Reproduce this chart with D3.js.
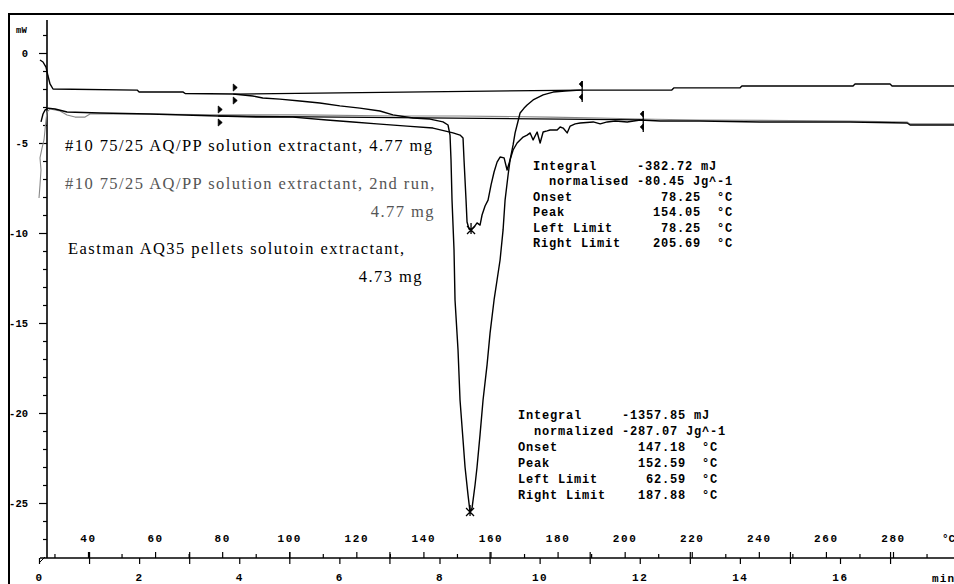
<!DOCTYPE html>
<meta charset="utf-8">
<title>DSC overlay</title>
<style>
body { margin: 0; background: #fff; }
svg { display: block; }
.axis .tick line { stroke: #000; stroke-width: 1.2px; }
.axis text { font: bold 11px "Liberation Mono", monospace; letter-spacing: 1.6px; fill: #000; }
.yaxis text { font: bold 10.5px "Liberation Mono", monospace; letter-spacing: 0; fill: #000; }
.curve { fill: none; stroke-linejoin: round; }
.label { font-family: "Liberation Serif", serif; font-size: 16.5px; letter-spacing: 1.45px; }
.block { font: bold 12px "Liberation Mono", monospace; letter-spacing: 0.8px; white-space: pre; fill: #000; }
</style>
<body>
<script src="https://cdn.jsdelivr.net/npm/d3@7"></script>
<script>
// values: [time (min), heat flow (mW)]
var eastman = [
  [0.02,-0.39],[0.08,-0.5],[0.14,-0.78],[0.18,-1.28],[0.22,-1.72],[0.28,-2.0],[1.96,-2.06],[2.0,-2.17],
  [2.88,-2.17],[2.92,-2.25],[3.88,-2.28],[4.27,-2.39],[4.47,-2.5],[4.81,-2.56],[5.21,-2.67],[5.61,-2.78],
  [6.01,-2.94],[6.41,-3.06],[6.81,-3.22],[7.07,-3.44],[7.47,-3.61],[7.81,-3.67],[8.07,-3.83],[8.17,-4.0],
  [8.21,-4.56],[8.23,-5.94],[8.25,-8.17],[8.29,-10.94],[8.31,-13.72],[8.37,-16.5],[8.41,-19.28],[8.47,-21.5],
  [8.51,-23.0],[8.57,-24.56],[8.61,-25.5],[8.65,-25.28],[8.71,-24.0],[8.75,-23.0],[8.81,-21.2],[8.87,-19.28],
  [8.95,-17.33],[9.01,-15.56],[9.09,-13.72],[9.15,-12.61],[9.21,-11.5],[9.27,-9.83],[9.31,-8.17],[9.37,-6.78],
  [9.41,-5.94],[9.47,-5.11],[9.51,-4.44],[9.57,-3.78],[9.61,-3.33],[9.69,-3.06],[9.75,-2.89],[9.87,-2.61],
  [10.07,-2.33],[10.27,-2.17],[10.51,-2.11],[10.81,-2.06],[12.64,-2.06],[12.68,-1.94],[14.0,-1.94],[14.04,-1.83],
  [16.26,-1.83],[16.3,-1.72],[17.0,-1.72],[17.04,-1.83],[18.28,-1.83]
];
var run1 = [
  [0.04,-3.83],[0.08,-3.39],[0.12,-3.17],[0.18,-3.06],[0.32,-3.11],[0.56,-3.28],[1.22,-3.33],[2.22,-3.39],
  [3.58,-3.5],[4.41,-3.56],[5.07,-3.56],[5.75,-3.72],[6.27,-3.83],[6.75,-3.94],[7.35,-4.06],[7.87,-4.17],
  [8.27,-4.44],[8.41,-4.56],[8.47,-4.72],[8.49,-5.94],[8.53,-8.17],[8.55,-9.39],[8.59,-9.78],[8.63,-9.83],
  [8.69,-9.67],[8.75,-9.44],[8.81,-9.56],[8.85,-9.0],[8.91,-8.5],[8.97,-8.17],[9.03,-7.33],[9.09,-6.61],
  [9.15,-6.06],[9.21,-5.78],[9.29,-5.83],[9.35,-6.5],[9.41,-5.94],[9.47,-5.39],[9.55,-5.0],[9.61,-4.83],
  [9.67,-4.67],[9.75,-4.56],[9.81,-4.44],[9.87,-4.83],[9.95,-4.39],[10.01,-5.0],[10.07,-4.39],[10.15,-4.33],
  [10.21,-4.28],[10.35,-4.28],[10.41,-4.11],[10.47,-4.17],[10.55,-4.44],[10.61,-4.06],[10.71,-3.94],[10.81,-3.89],
  [11.07,-3.83],[11.21,-3.94],[11.35,-3.83],[11.51,-3.78],[11.75,-3.83],[12.01,-3.72],[12.41,-3.78],[13.2,-3.78],
  [14.4,-3.83],[16.2,-3.83],[17.34,-3.89],[17.4,-4.0],[18.28,-4.0]
];
var run2 = [
  [0.0,-8.06],[0.02,-7.33],[0.04,-6.5],[0.02,-5.83],[0.06,-5.28],[0.1,-4.83],[0.12,-4.28],[0.14,-3.72],
  [0.16,-3.28],[0.22,-3.11],[0.42,-3.22],[0.56,-3.44],[0.72,-3.56],[0.92,-3.56],[1.02,-3.39],[2.22,-3.39],
  [3.58,-3.44],[5.21,-3.44],[7.21,-3.5],[8.41,-3.5],[10.21,-3.56],[11.21,-3.61],[12.01,-3.67],[13.2,-3.72],
  [16.2,-3.78],[17.34,-3.83],[17.4,-3.94],[18.28,-3.94]
];
// integration limits [left, right] and peaks
var eastmanLimits = [[3.88,-2.28],[10.85,-2.06]];
var run1Limits = [[3.58,-3.5],[12.07,-3.72]];
var peaks = [[8.61,-25.5],[8.63,-9.83]];

var yTicks = [0,-5,-10,-15,-20,-25];
var timeTicks = [0,2,4,6,8,10,12,14,16];
var tempTicks = [40,60,80,100,120,140,160,180,200,220,240,260,280];

var block1 = [
  "Integral     -382.72 mJ",
  "  normalised -80.45 Jg^-1",
  "Onset           78.25  \u00b0C",
  "Peak           154.05  \u00b0C",
  "Left Limit      78.25  \u00b0C",
  "Right Limit    205.69  \u00b0C"
];
var block2 = [
  "Integral     -1357.85 mJ",
  "  normalized -287.07 Jg^-1",
  "Onset          147.18  \u00b0C",
  "Peak           152.59  \u00b0C",
  "Left Limit      62.59  \u00b0C",
  "Right Limit    187.88  \u00b0C"
];

var W = 954, H = 584;
var svg = d3.select("body").append("svg").attr("width", W).attr("height", H);

var x = d3.scaleLinear().domain([0, 16]).range([39, 840]);
var y = d3.scaleLinear().domain([0, -25]).range([53, 503]);
var xT = d3.scaleLinear().domain([40, 280]).range([88, 893]);
var axisY = 558;

// frame
svg.append("rect").attr("x", 9).attr("y", 14).attr("width", 960).attr("height", 600)
  .attr("fill", "none").attr("stroke", "#000").attr("stroke-width", 2);

// y axis
svg.append("line").attr("x1", 47).attr("x2", 47).attr("y1", 20).attr("y2", axisY)
  .attr("stroke", "#000").attr("stroke-width", 1.6);
svg.append("g").attr("class", "axis yaxis").attr("transform", "translate(47,0)")
  .call(d3.axisLeft(y).tickValues(yTicks).tickSize(8).tickPadding(11)
    .tickFormat(function(d){ return d === 0 ? "0" : "-" + Math.abs(d); }));
svg.append("g").attr("class", "axis").attr("transform", "translate(47,0)")
  .call(d3.axisLeft(y).tickValues(d3.range(1, -28, -1).filter(function(d){ return d % 5 !== 0; }))
    .tickSize(4).tickFormat(""));
svg.append("text").attr("x", 16).attr("y", 33).text("mW")
  .style("font", "bold 9px 'Liberation Mono', monospace");

// x axis: time below, temperature above
svg.append("line").attr("x1", 40).attr("x2", W).attr("y1", axisY).attr("y2", axisY)
  .attr("stroke", "#000").attr("stroke-width", 1.4);
svg.append("line").attr("x1", 40).attr("x2", 45).attr("y1", axisY + 4).attr("y2", axisY - 1)
  .attr("stroke", "#000");
svg.append("g").attr("class", "axis").attr("transform", "translate(0," + axisY + ")")
  .call(d3.axisBottom(x).tickValues(timeTicks).tickSize(6).tickPadding(9).tickFormat(function(d){ return String(d); }));
svg.append("g").attr("class", "axis").attr("transform", "translate(0," + (axisY - 6) + ")")
  .call(d3.axisBottom(x).tickValues(d3.range(1, 18, 2)).tickSize(12).tickFormat(""));
svg.append("g").attr("class", "axis").attr("transform", "translate(0," + axisY + ")")
  .call(d3.axisTop(xT).tickValues(tempTicks).tickSize(6).tickPadding(10).tickFormat(function(d){ return String(d); }));
svg.append("g").attr("class", "axis").attr("transform", "translate(0," + axisY + ")")
  .call(d3.axisTop(xT).tickValues(d3.range(30, 300, 20)).tickSize(4).tickFormat(""));
svg.selectAll(".axis .domain").remove();
svg.append("text").attr("x", 932).attr("y", 582).text("min")
  .style("font", "bold 11px 'Liberation Mono', monospace").style("letter-spacing", "1.2px");
svg.append("text").attr("x", 942).attr("y", 542).text("\u00b0C")
  .style("font", "bold 11px 'Liberation Mono', monospace");

// curves
var line = d3.line().x(function(d){ return x(d[0]); }).y(function(d){ return y(d[1]); });
svg.append("path").attr("class", "curve").attr("d", line(run2)).attr("stroke", "#888").attr("stroke-width", 1.1);
svg.append("path").attr("class", "curve").attr("d", line(eastmanLimits)).attr("stroke", "#000").attr("stroke-width", 1.3);
svg.append("path").attr("class", "curve").attr("d", line(run1Limits)).attr("stroke", "#000").attr("stroke-width", 1.3);
svg.append("path").attr("class", "curve").attr("d", line(eastman)).attr("stroke", "#000").attr("stroke-width", 1.4);
svg.append("path").attr("class", "curve").attr("d", line(run1)).attr("stroke", "#000").attr("stroke-width", 1.4);

// limit markers
function leftMark(p) {
  var g = svg.append("g").attr("transform", "translate(" + x(p[0]) + "," + y(p[1]) + ")");
  g.append("path").attr("d", "M0,-10L0,-3L4,-6.5Z M0,3L0,10L4,6.5Z").attr("fill", "#000").attr("stroke", "#000").attr("stroke-width", 0.8);
}
function rightMark(p) {
  var g = svg.append("g").attr("transform", "translate(" + x(p[0]) + "," + y(p[1]) + ")");
  g.append("line").attr("y1", -9).attr("y2", 12).attr("stroke", "#000").attr("stroke-width", 1.3);
  g.append("path").attr("d", "M0,-9L0,-3L-3,-6Z M0,4L0,10L-3,7Z").attr("fill", "#000").attr("stroke", "#000").attr("stroke-width", 0.8);
}
leftMark(eastmanLimits[0]); rightMark(eastmanLimits[1]);
leftMark(run1Limits[0]); rightMark(run1Limits[1]);

// peak markers
peaks.forEach(function(p) {
  svg.append("path").attr("transform", "translate(" + x(p[0]) + "," + y(p[1]) + ")")
    .attr("d", "M-4,-4L4,4M-4,4L4,-4M0,-7L0,4").attr("stroke", "#000").attr("stroke-width", 1.3).attr("fill", "none");
});

// sample labels
var labels = [
  {t: "#10 75/25 AQ/PP solution extractant, 4.77 mg", x: 65, y: 151, a: "start", c: "#000"},
  {t: "#10 75/25 AQ/PP solution extractant, 2nd run,", x: 65, y: 189, a: "start", c: "#555"},
  {t: "4.77 mg", x: 435, y: 217, a: "end", c: "#555"},
  {t: "Eastman AQ35 pellets solutoin extractant,", x: 68, y: 254, a: "start", c: "#000"},
  {t: "4.73 mg", x: 423, y: 282, a: "end", c: "#000"}
];
svg.selectAll(".label").data(labels).enter().append("text").attr("class", "label")
  .attr("x", function(d){ return d.x; }).attr("y", function(d){ return d.y; })
  .attr("text-anchor", function(d){ return d.a; }).attr("fill", function(d){ return d.c; })
  .text(function(d){ return d.t; });

// integral result blocks
function block(rows, x0, y0, dy) {
  svg.append("g").selectAll("text").data(rows).enter().append("text").attr("class", "block")
    .attr("xml:space", "preserve")
    .attr("x", x0).attr("y", function(d, i){ return y0 + i * dy; }).text(function(d){ return d; });
}
block(block1, 533, 170, 15.4);
block(block2, 518, 419, 16);
</script>
</body>
